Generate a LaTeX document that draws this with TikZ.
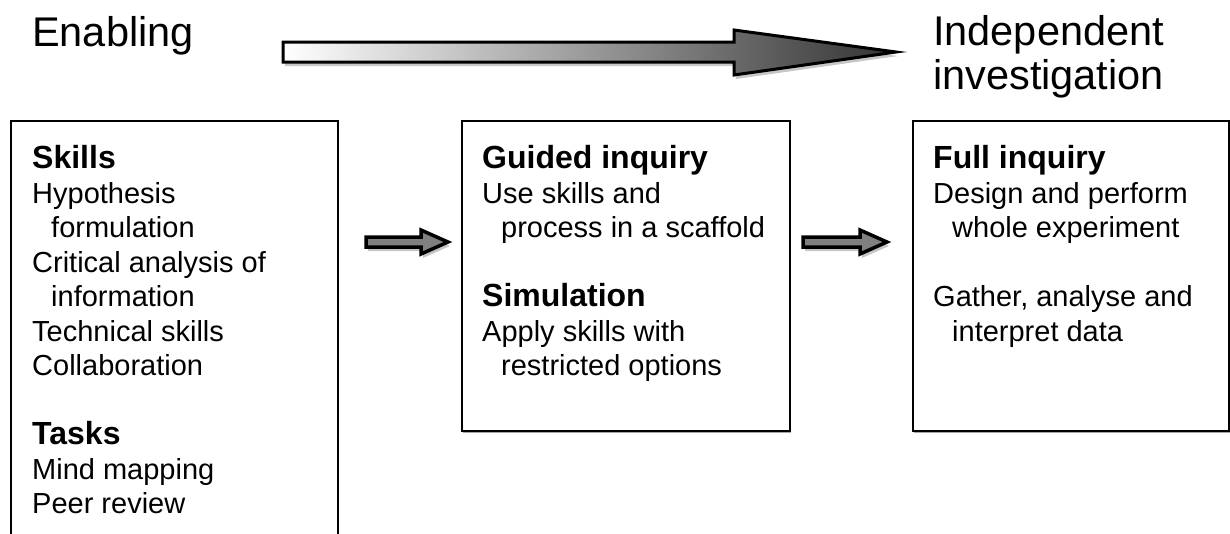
\documentclass[tikz,border=0pt]{standalone}
\usepackage{fontspec}
\setmainfont{Liberation Sans}
\usetikzlibrary{shadows}

\newcommand\ind{\hspace*{19pt}}
\newcommand\headline[1]{{\fontsize{32}{34.5}\selectfont\bfseries #1}}

\begin{document}
\begin{tikzpicture}[x=1pt,y=-1pt,
  stagebox/.style={draw=black, line width=2pt, fill=white, anchor=north west,
    inner sep=0pt,
    drop shadow={opacity=1, fill=black!35, shadow xshift=1.2pt, shadow yshift=-1.5pt}},
  stagetext/.style={anchor=north west, inner sep=0pt, align=left,
    font=\fontsize{29}{34.5}\selectfont},
  title/.style={anchor=north west, inner sep=0pt, align=left,
    font=\fontsize{41.5}{44}\selectfont},
  bigarrow/.style={draw=black, line width=3pt, line join=miter,
    left color=white, right color=black!80},
  smallarrow/.style={draw=black, line width=3.5pt, line join=miter, fill=black!50},
  arrowshadow/.style={fill=black!22, draw=none},
]
\useasboundingbox (0,0) rectangle (1230,533);
\clip (0,0) rectangle (1230,533);

% headings
\node[title] (enabling) at (32,16) {Enabling};
\node[title] (independent) at (933,15) {Independent\\investigation};

% progression arrow from enabling towards independent work
\fill[arrowshadow] (285,46) -- (736,46) -- (736,34) -- (898,56) -- (736,79)
  -- (736,66) -- (285,66) -- cycle;
\path[bigarrow] (283,42) -- (734,42) -- (734,30) -- (896,52) -- (734,75)
  -- (734,62) -- (283,62) -- cycle;

% stage boxes
\node[stagebox, minimum width=327pt, minimum height=480pt] (skillsbox) at (10,120) {};
\node[stagebox, minimum width=328pt, minimum height=310pt] (guidedbox) at (461,120) {};
\node[stagebox, minimum width=316pt, minimum height=310pt] (fullbox) at (912,120) {};

% box contents
\node[stagetext] (skillstext) at (32,145.3) {%
  \headline{Skills}\\
  Hypothesis\\
  \ind formulation\\
  Critical analysis of\\
  \ind information\\
  Technical skills\\
  Collaboration\\[34.5pt]
  \headline{Tasks}\\
  Mind mapping\\
  Peer review};

\node[stagetext] (guidedtext) at (482,145.3) {%
  \headline{Guided inquiry}\\
  Use skills and\\
  \ind process in a scaffold\\[34.5pt]
  \headline{Simulation}\\
  Apply skills with\\
  \ind restricted options};

\node[stagetext] (fulltext) at (933,145.3) {%
  \headline{Full inquiry}\\
  Design and perform\\
  \ind whole experiment\\[34.5pt]
  Gather, analyse and\\
  \ind interpret data};

% step arrows between the boxes
\fill[arrowshadow] (368,241) -- (423,241) -- (423,234) -- (450,246) -- (423,258)
  -- (423,251) -- (368,251) -- cycle;
\path[smallarrow] (366,237) -- (421,237) -- (421,230) -- (448,242) -- (421,254)
  -- (421,247) -- (366,247) -- cycle;

\fill[arrowshadow] (805,241) -- (862,241) -- (862,234) -- (889,246) -- (862,258)
  -- (862,251) -- (805,251) -- cycle;
\path[smallarrow] (803,237) -- (860,237) -- (860,230) -- (887,242) -- (860,254)
  -- (860,247) -- (803,247) -- cycle;
\end{tikzpicture}
\end{document}
